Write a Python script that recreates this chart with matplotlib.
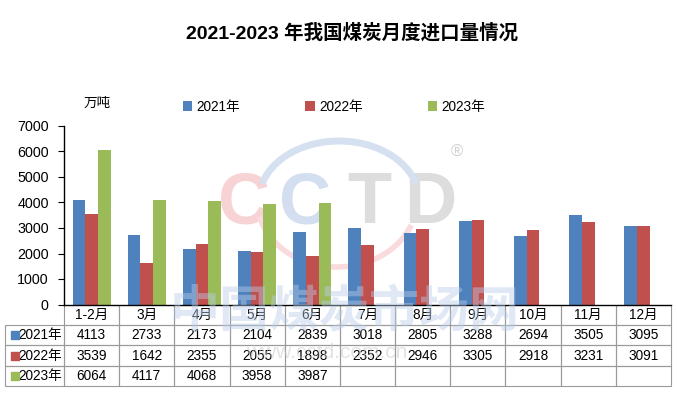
import matplotlib.pyplot as plt
from matplotlib.patches import Arc
import numpy as np

plt.rcParams['font.family'] = ['Liberation Sans', 'Noto Sans CJK SC', 'DejaVu Sans']

# data
months = ['1-2月', '3月', '4月', '5月', '6月', '7月', '8月', '9月', '10月', '11月', '12月']
years = ['2021年', '2022年', '2023年']
imp_2021 = [4113, 2733, 2173, 2104, 2839, 3018, 2805, 3288, 2694, 3505, 3095]
imp_2022 = [3539, 1642, 2355, 2055, 1898, 2352, 2946, 3305, 2918, 3231, 3091]
imp_2023 = [6064, 4117, 4068, 3958, 3987]

colors = ['#4F81BD', '#C0504D', '#9BBB59']
series = [imp_2021, imp_2022, imp_2023]
fs = 9.8

fig = plt.figure(figsize=(6.77, 3.95), dpi=100)
ax = fig.add_axes([64 / 677, 1 - 304.5 / 395, 607 / 677, 178.5 / 395])

x = np.arange(len(months))
w = 0.23
for k, (vals, c, lab) in enumerate(zip(series, colors, years)):
    xs = x[:len(vals)] + (k - 1) * w
    ax.bar(xs, vals, width=w, color=c, label=lab, zorder=2)

ax.set_xlim(-0.5, len(months) - 0.5)
ax.set_ylim(0, 7000)
ax.set_yticks(range(0, 7001, 1000))
ax.set_xticks([])
ax.tick_params(axis='y', direction='out', length=4, labelsize=fs + 0.5, pad=7)
for s in ['top', 'right']:
    ax.spines[s].set_visible(False)
ax.spines['left'].set_linewidth(1.0)
ax.spines['bottom'].set_linewidth(1.0)

# data table under the axis
cell_text = [[''] + months]
for lab, vals in zip(years, series):
    cell_text.append([lab] + [str(v) for v in vals] + [''] * (len(months) - len(vals)))
col_w = [59] + [55.2] * len(months)
tbl = ax.table(cellText=cell_text, cellLoc='center', colWidths=col_w,
               bbox=[-59 / 607, -81.8 / 178.5, 666 / 607, 81.8 / 178.5])
tbl.auto_set_font_size(False)
tbl.set_fontsize(fs)
for (r, c), cell in tbl.get_celld().items():
    cell.set_edgecolor('#9A9A9A')
    cell.set_linewidth(0.8)
    cell.set_facecolor('none')
    if r == 0 and c == 0:
        cell.visible_edges = ''
    elif r == 0:
        cell.visible_edges = 'BLR'
    if c == 0 and r > 0:
        cell.PAD = 0.03
        cell.get_text().set_horizontalalignment('right')
# colour keys in the row-label cells
for k, c in enumerate(colors):
    yk = -(81.8 / 178.5) * (1.5 + k) / 4
    ax.scatter([-49.5 / 607], [yk], marker='s', s=30, color=c,
               transform=ax.transAxes, clip_on=False, zorder=5)

# legend, unit, title
fig.legend(loc='center', bbox_to_anchor=(334 / 677, 1 - 107 / 395), ncol=3,
           frameon=False, fontsize=fs, handlelength=0.7, handleheight=0.7,
           handletextpad=0.3, columnspacing=4.8)
fig.text(97 / 677, 1 - 103 / 395, '万吨', ha='center', va='center', fontsize=fs)
fig.text(352 / 677, 1 - 33 / 395, '2021-2023 年我国煤炭月度进口量情况',
         ha='center', va='center', fontsize=14, fontweight='bold')

# faint CCTD watermark behind the bars
tf = fig.transFigure
for ch, cx, c in [('C', 244, '#F7D3D6'), ('C', 305, '#D3DFF0'),
                  ('T', 369, '#DDDDDD'), ('D', 430, '#DDDDDD')]:
    ax.text(cx / 677, 1 - 204 / 395, ch, transform=tf, ha='center', va='center',
            fontsize=52, fontweight='bold', color=c, zorder=0.5, clip_on=False)
ax.add_patch(Arc((339 / 677, 1 - 200 / 395), 160 / 677, 118 / 395, theta1=20,
                 theta2=160, transform=tf, color='#D5E0F0', lw=5, zorder=0.5,
                 clip_on=False))
ax.add_patch(Arc((337 / 677, 1 - 200 / 395), 160 / 677, 134 / 395, theta1=200,
                 theta2=330, transform=tf, color='#F9DADD', lw=4, zorder=0.5,
                 clip_on=False))
ax.text(457 / 677, 1 - 152 / 395, '®', transform=tf, ha='center', va='center',
        fontsize=12, color='#D0D0D0', zorder=0.5)
ax.text(345 / 677, 1 - 312 / 395, '中国煤炭市场网', transform=tf, ha='center',
        va='center', fontsize=36, fontweight='bold', color='#B8CCE8', alpha=0.45,
        zorder=6, clip_on=False)
ax.text(327 / 677, 1 - 352 / 395, 'www.cctd.com.cn', transform=tf, ha='center',
        va='center', fontsize=15, color='#C8C8C8', alpha=0.5, zorder=6,
        clip_on=False)

fig.savefig('out.png', dpi=100)
plt.close(fig)
